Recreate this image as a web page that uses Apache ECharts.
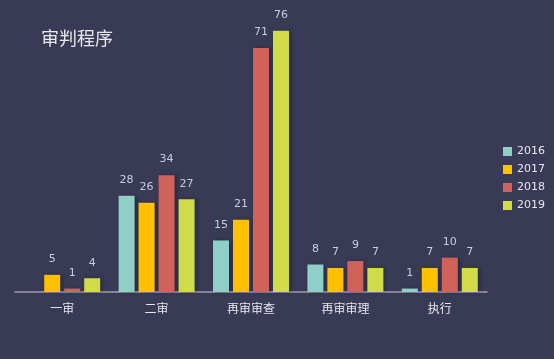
<!DOCTYPE html>
<html><head><meta charset="utf-8">
<script src="https://cdn.jsdelivr.net/npm/echarts@6/dist/echarts.min.js"></script>
<style>html,body{margin:0;padding:0;background:#393a56;}#c{width:554px;height:359px;}</style>
</head><body><div id="c"></div>
<script>
const categories = ['一审','二审','再审审查','再审审理','执行'];
const seriesNames = ['2016','2017','2018','2019'];
const v2016 = [null, 28, 15, 8, 1];
const v2017 = [5, 26, 21, 7, 7];
const v2018 = [1, 34, 71, 9, 10];
const v2019 = [4, 27, 76, 7, 7];
const colors = ['#8ecfc8','#ffc000','#d0625a','#cfdc48'];
const allData = [v2016, v2017, v2018, v2019];
const chart = echarts.init(document.getElementById('c'));
chart.setOption({
  backgroundColor: '#393a56',
  animation: false,
  title: { text: '审判程序', left: 36, top: 24, textStyle: { color: '#e8e8ee', fontSize: 18, fontWeight: 'normal', fontFamily: 'Noto Sans CJK SC' } },
  legend: { orient: 'vertical', left: 498, top: 141, itemWidth: 9, itemHeight: 9, itemGap: 7, icon: 'rect',
    textStyle: { color: '#e6e6ee', fontSize: 11, fontFamily: 'DejaVu Sans' }, data: seriesNames },
  grid: { left: 15, right: 67, top: 17, bottom: 67 },
  xAxis: { type: 'category', data: categories,
    axisLine: { lineStyle: { color: '#a0a0ac', width: 1.5 } }, axisTick: { show: false },
    axisLabel: { color: '#e6e6ee', fontSize: 12, margin: 10, fontFamily: 'Noto Sans CJK SC' } },
  yAxis: { type: 'value', min: 0, max: 80, show: false, splitLine: { show: false } },
  series: allData.map((d, i) => ({
    name: seriesNames[i], type: 'bar', data: d, barWidth: 16, barGap: '25%',
    itemStyle: { color: colors[i], shadowColor: 'rgba(0,0,0,0.3)', shadowBlur: 4, shadowOffsetX: 2, shadowOffsetY: 0 },
    label: { show: true, position: 'top', distance: 10, color: '#c8cce0', fontSize: 11, fontFamily: 'DejaVu Sans' }
  }))
});
</script></body></html>
